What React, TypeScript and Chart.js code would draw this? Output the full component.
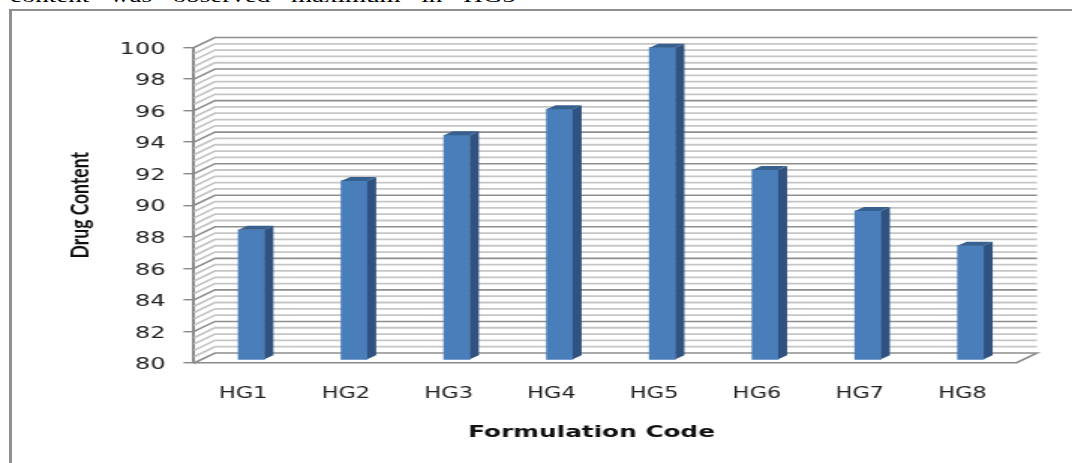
import React, { useEffect, useRef } from "react";
import { Chart, registerables, Plugin } from "chart.js";

Chart.register(...registerables);

const categories = ["HG1", "HG2", "HG3", "HG4", "HG5", "HG6", "HG7", "HG8"];
const drugContent = [88.25, 91.35, 94.25, 95.9, 99.8, 92.05, 89.45, 87.25];
const yTitle = "Drug Content";
const xTitle = "Formulation Code";
const introText = "content was observed maximum in HG5";

const CANVAS_W = 715;
const CANVAS_H = 463;
const SX = 1072 / CANVAS_W;
const LEFT = 194 / SX;
const RIGHT = 1016 / SX;
const TOP = 47.5;
const BOTTOM = 363;
const DEPTH_X = 21 / SX;
const DEPTH_Y = 10;
const BAR_W = 26 / SX;
const BAR_SHIFT_X = 6 / SX;
const BAR_SHIFT_Y = 3;
const SIDE_X = 9 / SX;
const SIDE_Y = 4;
const MINOR_STEP = 0.4;
const PAD_LEFT = 43;

const threeD: Plugin<"bar"> = {
  id: "threeD",
  beforeDraw(chart) {
    // the digits sit optically high in their em box: nudge them onto the tick marks
    (chart.scales.y as any).getLabelItems().forEach((item: any) => {
      if (!item.nudged) {
        item.textOffset += 2;
        item.nudged = true;
      }
    });
  },
  beforeDatasetsDraw(chart) {
    const { ctx, scales } = chart;
    const y = scales.y;
    const { left, right, bottom } = chart.chartArea;
    ctx.save();
    const count = Math.round((y.max - y.min) / MINOR_STEP);
    for (let i = count; i >= 1; i--) {
      const v = y.min + i * MINOR_STEP;
      const major = i % 5 === 0;
      const py = y.getPixelForValue(v);
      ctx.strokeStyle = major ? "#8e8e8e" : "#c6c6c6";
      ctx.lineWidth = major ? 1.6 : 1.8;
      ctx.beginPath();
      ctx.moveTo(left, py);
      ctx.lineTo(left + DEPTH_X, py - DEPTH_Y);
      ctx.lineTo(right + DEPTH_X, py - DEPTH_Y);
      ctx.stroke();
    }
    ctx.strokeStyle = "#8e8e8e";
    ctx.lineWidth = 1.6;
    ctx.beginPath();
    ctx.moveTo(left, bottom);
    ctx.lineTo(left + DEPTH_X, bottom - DEPTH_Y);
    ctx.lineTo(right + DEPTH_X, bottom - DEPTH_Y);
    ctx.lineTo(right, bottom);
    ctx.stroke();
    ctx.restore();
    ctx.save();
    ctx.translate(BAR_SHIFT_X, -BAR_SHIFT_Y);
  },
  afterDatasetsDraw(chart) {
    const { ctx } = chart;
    chart.getDatasetMeta(0).data.forEach((bar: any) => {
      const l = bar.x - bar.width / 2;
      const r = bar.x + bar.width / 2;
      const t = bar.y;
      const b = bar.base;
      ctx.fillStyle = "#2f5280";
      ctx.beginPath();
      ctx.moveTo(r, t);
      ctx.lineTo(r + SIDE_X, t - SIDE_Y);
      ctx.lineTo(r + SIDE_X, b - SIDE_Y);
      ctx.lineTo(r, b);
      ctx.closePath();
      ctx.fill();
      ctx.fillStyle = "#37608f";
      ctx.beginPath();
      ctx.moveTo(l, t);
      ctx.lineTo(l + SIDE_X, t - SIDE_Y);
      ctx.lineTo(r + SIDE_X, t - SIDE_Y);
      ctx.lineTo(r, t);
      ctx.closePath();
      ctx.fill();
    });
    ctx.restore();
    ctx.save();
    ctx.fillStyle = "#111111";
    ctx.font = 'bold 16.5px "DejaVu Sans"';
    ctx.textAlign = "center";
    ctx.textBaseline = "middle";
    ctx.fillText(xTitle, 591.5 / SX, 433);
    ctx.restore();
  },
};

export default function App() {
  const ref = useRef<HTMLCanvasElement>(null);
  useEffect(() => {
    document.body.style.margin = "0";
    document.body.style.background = "#ffffff";
    document.body.style.overflow = "hidden";
    const chart = new Chart(ref.current!, {
      type: "bar",
      data: {
        labels: categories,
        datasets: [
          {
            data: drugContent,
            base: 80,
            backgroundColor: "#4a7ebb",
            barThickness: BAR_W,
            clip: false,
          } as any,
        ],
      },
      options: {
        responsive: false,
        animation: false,
        devicePixelRatio: 1,
        layout: {
          padding: {
            left: PAD_LEFT,
            right: CANVAS_W - RIGHT,
            top: TOP,
            bottom: 0,
          },
        },
        plugins: { legend: { display: false }, tooltip: { enabled: false } },
        scales: {
          x: {
            afterFit: (s: any) => {
              s.height = CANVAS_H - BOTTOM;
            },
            grid: { display: false, drawTicks: false },
            border: { display: true, color: "#8a8a8a", width: 1.6 },
            ticks: {
              color: "#222222",
              font: { family: "DejaVu Sans", size: 15 },
              padding: 22,
              maxRotation: 0,
              labelOffset: -1.5,
            },
          },
          y: {
            min: 80,
            max: 100,
            afterFit: (s: any) => {
              s.width = LEFT - PAD_LEFT;
            },
            grid: {
              drawOnChartArea: false,
              drawTicks: true,
              tickLength: 7,
              color: "#8a8a8a",
              lineWidth: 1.4,
            },
            border: { display: true, color: "#8a8a8a", width: 2 },
            ticks: {
              stepSize: 2,
              color: "#222222",
              font: { family: "DejaVu Sans", size: 16 },
              padding: 12,
            },
            title: {
              display: true,
              text: yTitle,
              color: "#111111",
              font: { family: "Lato", weight: "bold", size: 17.5 },
              padding: 0,
            },
          },
        },
      },
      plugins: [threeD],
    });
    return () => chart.destroy();
  }, []);

  return (
    <div
      style={{
        position: "fixed",
        left: 0,
        top: 0,
        width: CANVAS_W,
        height: CANVAS_H,
        overflow: "hidden",
        transform: `scaleX(${SX})`,
        transformOrigin: "0 0",
        background: "#fff",
      }}
    >
      <div
        style={{
          position: "absolute",
          left: 6.5,
          top: -14,
          fontFamily: '"Liberation Serif", serif',
          fontSize: 18,
          lineHeight: "20px",
          wordSpacing: 9.4,
          whiteSpace: "nowrap",
          color: "#000",
        }}
      >
        {introText}
      </div>
      <div
        style={{
          position: "absolute",
          left: 6,
          top: 9,
          width: CANVAS_W,
          height: CANVAS_H,
          borderLeft: "2px solid #8f8f8f",
          borderTop: "2px solid #8f8f8f",
        }}
      />
      <canvas
        ref={ref}
        width={CANVAS_W}
        height={CANVAS_H}
        style={{ position: "absolute", left: 0, top: 0, filter: "blur(0.35px)" }}
      />
    </div>
  );
}
